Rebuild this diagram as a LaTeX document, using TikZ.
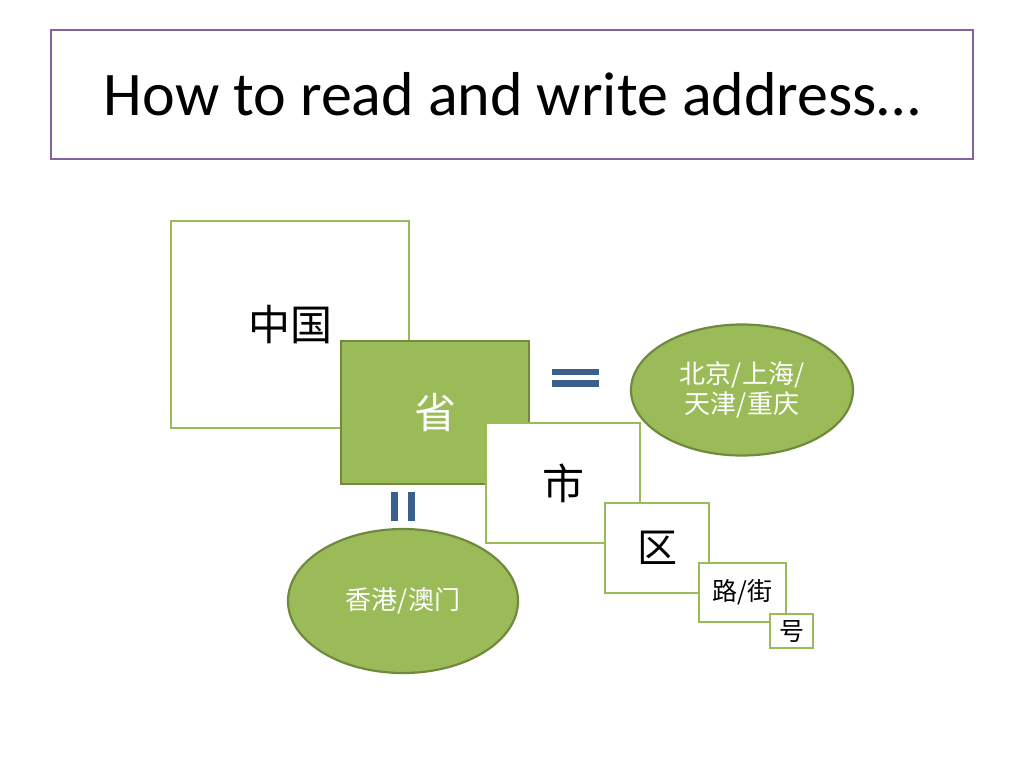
\documentclass[tikz,border=0pt]{standalone}
\usepackage{fontspec}
\setmainfont{Carlito}
\newfontfamily\cjk{Noto Sans CJK SC}
\usepackage{tikz}
\usetikzlibrary{shapes.geometric, positioning}
\definecolor{leafgreen}{RGB}{155,187,89}
\definecolor{darkgreen}{RGB}{113,137,63}
\definecolor{titlepurple}{RGB}{128,100,162}
\definecolor{equalblue}{RGB}{58,95,143}
\tikzstyle{level} = [rectangle, draw=leafgreen, line width=1.3pt, fill=white, inner sep=0pt, text centered, font=\cjk\fontsize{21}{24}\selectfont]
\tikzstyle{province} = [rectangle, draw=darkgreen, line width=1.4pt, fill=leafgreen, inner sep=0pt, text=white, text centered, font=\cjk\fontsize{21}{24}\selectfont]
\tikzstyle{same} = [ellipse, draw=darkgreen, line width=1.1pt, fill=leafgreen, inner sep=0pt, text=white, align=center, font=\cjk\fontsize{13}{15}\selectfont]
\tikzstyle{small} = [font=\cjk\fontsize{12.5}{14}\selectfont]
\tikzstyle{bar} = [fill=equalblue]

\begin{document}
\begin{tikzpicture}[x=0.5pt, y=-0.5pt]
\useasboundingbox[fill=white] (0,0) rectangle (1024,768);

% Title
\node (title) [draw=titlepurple, line width=1.1pt, minimum width=461pt, minimum height=64.5pt, font=\fontsize{31}{37}\selectfont] at (512,94.5) {How to read and write address…};

% Address levels, big to small
\node (country) [level, minimum width=119pt, minimum height=103.5pt] at (290,324.5) {中国};
\node (province) [province, minimum width=94pt, minimum height=71.5pt] at (435,412.5) {省};
\node (city) [level, minimum width=77pt, minimum height=60pt] at (563,483) {市};
\node (district) [level, minimum width=52pt, minimum height=45pt, font=\cjk\fontsize{20}{24}\selectfont] at (657,548) {区};
\node (street) [level, small, minimum width=43.5pt, minimum height=29.5pt] at (742.5,592.5) {路/街};
\node (number) [level, small, minimum width=21.5pt, minimum height=17pt] at (791.5,631) {号};

% Same level as province
\node (municipal) [same, minimum width=111pt, minimum height=65.5pt] at (742,390) {北京/上海/\\天津/重庆};
\node (special) [same, minimum width=115pt, minimum height=72pt] at (403,601) {香港/澳门};

% Equal signs
\fill [bar] (552,369) rectangle (599,375);
\fill [bar] (552,380) rectangle (599,387);
\fill [bar] (391,492) rectangle (398,521);
\fill [bar] (408,492) rectangle (415,521);

\end{tikzpicture}
\end{document}
